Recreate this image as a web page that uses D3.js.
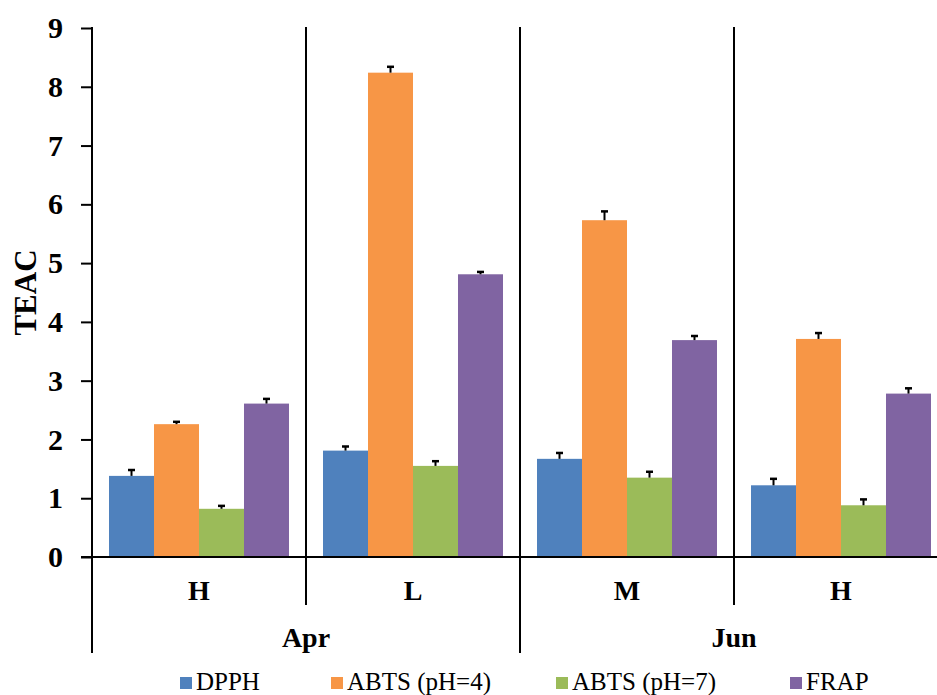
<!DOCTYPE html>
<html>
<head>
<meta charset="utf-8">
<script src="https://cdn.jsdelivr.net/npm/d3@7"></script>
<style>
  html, body { margin: 0; padding: 0; background: #fff; }
  svg { display: block; }
  svg text { font-family: "Times New Roman", Times, "Liberation Serif", Tinos, serif; fill: #000; }
</style>
</head>
<body>
<div id="chart"></div>
<script>
// Sampling groups (harvest month / altitude class)
const categories = ["H", "L", "M", "H"];
const months = ["Apr", "Jun"];
const monthSpan = [2, 2];          // number of categories under each month

const seriesNames = ["DPPH", "ABTS (pH=4)", "ABTS (pH=7)", "FRAP"];
const seriesColors = ["#4F81BD", "#F79646", "#9BBB59", "#8064A2"];

// TEAC means per category (Apr-H, Apr-L, Jun-M, Jun-H)
const dpph   = [1.38, 1.81, 1.67, 1.22];
const abts4  = [2.26, 8.24, 5.73, 3.71];
const abts7  = [0.82, 1.55, 1.35, 0.88];
const frap   = [2.61, 4.81, 3.69, 2.78];

// Standard deviations (upper error bars)
const dpphErr  = [0.10, 0.07, 0.10, 0.11];
const abts4Err = [0.04, 0.10, 0.15, 0.10];
const abts7Err = [0.05, 0.08, 0.10, 0.10];
const frapErr  = [0.08, 0.04, 0.07, 0.09];

const yTicks = [0, 1, 2, 3, 4, 5, 6, 7, 8, 9];

const values = [dpph, abts4, abts7, frap];
const errors = [dpphErr, abts4Err, abts7Err, frapErr];

const W = 937, H = 695;
const plotLeft = 92, plotRight = 948, plotTop = 28, baseY = 557;
const serif = "'Times New Roman', Times, 'Liberation Serif', Tinos, serif";

const svg = d3.select("#chart").append("svg")
  .attr("width", W).attr("height", H)
  .attr("font-family", serif);

const catKeys = categories.map((c, i) => i);
const x0 = d3.scaleBand().domain(catKeys).range([plotLeft, plotRight]).padding(0);
const x1 = d3.scaleBand().domain(d3.range(seriesNames.length))
  .range([0, x0.bandwidth()]).paddingInner(0).paddingOuter(0.378);
const y = d3.scaleLinear().domain([0, 9]).range([baseY, plotTop]);

// Bars
const rows = catKeys.map(i => ({
  i,
  items: seriesNames.map((s, k) => ({ k, v: values[k][i], e: errors[k][i] }))
}));

const g = svg.selectAll("g.cat").data(rows).enter().append("g")
  .attr("class", "cat")
  .attr("transform", d => `translate(${x0(d.i)},0)`);

g.selectAll("rect").data(d => d.items).enter().append("rect")
  .attr("x", d => x1(d.k))
  .attr("width", x1.bandwidth())
  .attr("y", d => y(d.v))
  .attr("height", d => y(0) - y(d.v))
  .attr("fill", d => seriesColors[d.k]);

// Error bars (upper only)
const eb = g.selectAll("g.err").data(d => d.items).enter().append("g").attr("class", "err");
eb.append("line")
  .attr("x1", d => x1(d.k) + x1.bandwidth() / 2)
  .attr("x2", d => x1(d.k) + x1.bandwidth() / 2)
  .attr("y1", d => y(d.v))
  .attr("y2", d => y(d.v + d.e))
  .attr("stroke", "#000").attr("stroke-width", 2);
eb.append("line")
  .attr("x1", d => x1(d.k) + x1.bandwidth() / 2 - 3.5)
  .attr("x2", d => x1(d.k) + x1.bandwidth() / 2 + 3.5)
  .attr("y1", d => y(d.v + d.e))
  .attr("y2", d => y(d.v + d.e))
  .attr("stroke", "#000").attr("stroke-width", 2.5);

// Y axis
const yAxis = d3.axisLeft(y).tickValues(yTicks).tickFormat(d3.format("d"))
  .tickSize(11).tickSizeOuter(0).tickPadding(18);
const ya = svg.append("g").attr("transform", `translate(${plotLeft},0)`).call(yAxis)
  .attr("font-family", serif).attr("font-size", 30).attr("font-weight", "bold");
ya.select(".domain").remove();
ya.selectAll(".tick line").attr("stroke", "#000").attr("stroke-width", 2);
ya.selectAll(".tick text").attr("fill", "#000");

// Vertical axis line extends down through the category rows
svg.append("line").attr("x1", plotLeft).attr("x2", plotLeft).attr("y1", plotTop - 1).attr("y2", 653)
  .attr("stroke", "#000").attr("stroke-width", 2);

// Horizontal baseline
svg.append("line").attr("x1", plotLeft - 11).attr("x2", W + 20).attr("y1", y(0)).attr("y2", y(0))
  .attr("stroke", "#000").attr("stroke-width", 2);

// Category dividers: short between categories, long between months
const monthBounds = [];
let acc = 0;
monthSpan.forEach(n => { acc += n; monthBounds.push(acc); });
catKeys.slice(1).forEach(i => {
  const isMonth = monthBounds.includes(i);
  svg.append("line")
    .attr("x1", x0(i)).attr("x2", x0(i))
    .attr("y1", plotTop - 1).attr("y2", isMonth ? 653 : 605)
    .attr("stroke", "#000").attr("stroke-width", 2);
});

// Category labels
svg.selectAll("text.cat").data(categories).enter().append("text")
  .attr("class", "cat")
  .attr("x", (d, i) => x0(i) + x0.bandwidth() / 2)
  .attr("y", 600)
  .attr("text-anchor", "middle")
  .attr("font-weight", "bold").attr("font-size", 28)
  .text(d => d);

// Month labels
let start = 0;
months.forEach((m, j) => {
  const a = x0(start), b = x0(start + monthSpan[j] - 1) + x0.bandwidth();
  svg.append("text")
    .attr("x", (a + b) / 2).attr("y", 647)
    .attr("text-anchor", "middle")
    .attr("font-weight", "bold").attr("font-size", 28)
    .text(m);
  start += monthSpan[j];
});

// Y axis title
svg.append("text")
  .attr("transform", `translate(36,${(plotTop + baseY) / 2}) rotate(-90)`)
  .attr("text-anchor", "middle")
  .attr("font-weight", "bold").attr("font-size", 31)
  .text("TEAC");

// Legend
const legendX = [180, 331, 556, 790];
const lg = svg.selectAll("g.legend").data(seriesNames).enter().append("g")
  .attr("class", "legend")
  .attr("transform", (d, i) => `translate(${legendX[i]},677)`);
lg.append("rect").attr("width", 12).attr("height", 12)
  .attr("fill", (d, i) => seriesColors[i]);
lg.append("text").attr("x", 16).attr("y", 13)
  .attr("font-size", 25)
  .text(d => d);
</script>
</body>
</html>
